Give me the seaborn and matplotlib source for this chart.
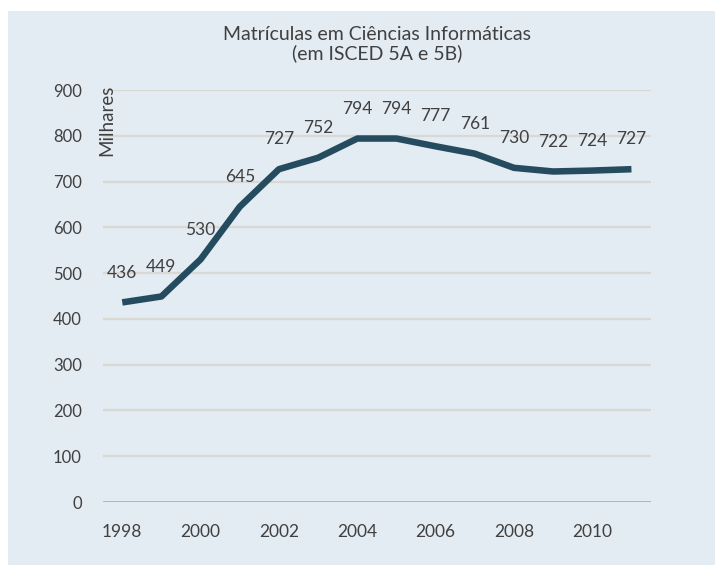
import seaborn as sns
import matplotlib.pyplot as plt
import matplotlib.patches as mpatches
import pandas as pd

# Matrículas em Ciências Informáticas (milhares)
years = [1998, 1999, 2000, 2001, 2002, 2003, 2004, 2005, 2006, 2007, 2008, 2009, 2010, 2011]
values = [436, 449, 530, 645, 727, 752, 794, 794, 777, 761, 730, 722, 724, 727]
tick_years = [1998, 2000, 2002, 2004, 2006, 2008, 2010]
y_ticks = [0, 100, 200, 300, 400, 500, 600, 700, 800, 900]

bg = '#e3ebf3'
text_color = '#404040'
line_color = '#254b5e'

sns.set_theme(style='white')
plt.rcParams['font.family'] = ['Lato', 'DejaVu Sans']

df = pd.DataFrame({'ano': years, 'matriculas': values})

fig = plt.figure(figsize=(7.15, 5.65), dpi=100)
fig.patch.set_facecolor('white')
# painel azul claro com uma margem branca à esquerda e em cima
fig.patches.append(mpatches.Rectangle((8 / 715, 0), 1, 1 - 11 / 565,
                                      transform=fig.transFigure, facecolor=bg,
                                      edgecolor='none', zorder=-10))

ax = fig.add_axes([0.1436, 0.1115, 0.7669, 0.7292])
ax.set_facecolor(bg)

for v in y_ticks[1:]:
    ax.axhline(v, color='#d9d8d2', lw=1.6, zorder=1)
ax.axhline(0, color='#a5a49c', lw=1.8, zorder=1)

sns.lineplot(data=df, x='ano', y='matriculas', ax=ax, color=line_color,
             linewidth=4.7, zorder=3)
for line in ax.lines[-1:]:
    line.set_solid_joinstyle('round')
    line.set_solid_capstyle('butt')

for x, v in zip(years, values):
    ax.annotate(str(v), (x, v), xytext=(0, 21.5), textcoords='offset points',
                ha='center', va='center', fontsize=12.5, color=text_color)

ax.set_xlim(1997.5, 2011.5)
ax.set_ylim(0, 900)
ax.set_xticks(tick_years)
ax.set_xticklabels([str(t) for t in tick_years])
ax.set_yticks(y_ticks)
ax.tick_params(axis='x', length=0, pad=16, labelsize=12.5, labelcolor=text_color)
ax.tick_params(axis='y', length=0, pad=15, labelsize=12, labelcolor=text_color)
ax.set_xlabel('')
ax.set_ylabel('')
sns.despine(ax=ax, left=True, bottom=True, top=True, right=True)

ax.text(0.008, 0.927, 'Milhares', transform=ax.transAxes, rotation=90,
        ha='center', va='center', fontsize=13.5, color=text_color)

ax.set_title('Matrículas em Ciências Informáticas\n(em ISCED 5A e 5B)',
             fontsize=14, color=text_color, pad=22, linespacing=1.1)

fig.savefig('out.png', dpi=100, facecolor=fig.get_facecolor())
